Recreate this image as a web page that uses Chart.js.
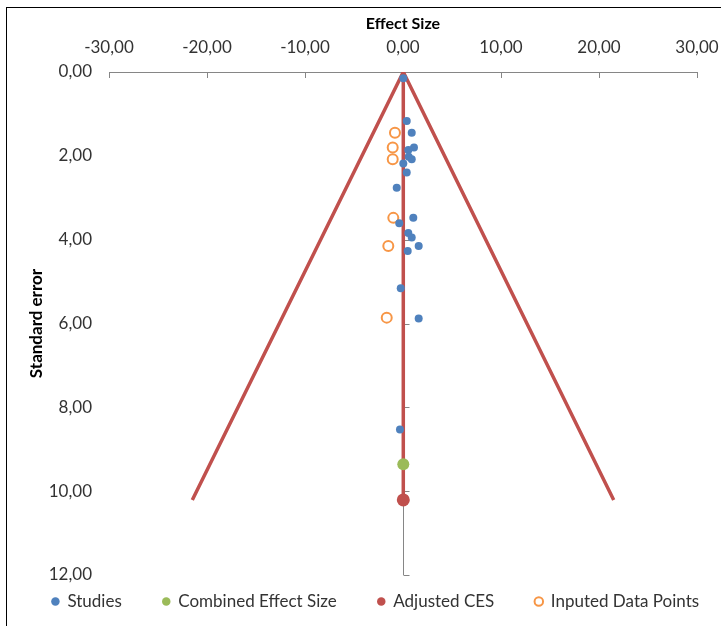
<!DOCTYPE html>
<html>
<head>
<meta charset="utf-8">
<script src="https://cdn.jsdelivr.net/npm/chart.js@4.4.1/dist/chart.umd.min.js"></script>
<style>
  html, body { margin: 0; padding: 0; background: #fff; }
  #wrap { position: relative; width: 721px; height: 626px; overflow: hidden; }
  #frame { position: absolute; left: 6px; top: 7px; width: 800px; height: 700px; border: 1px solid #000; box-sizing: border-box; pointer-events: none; }
  canvas { position: absolute; left: 0; top: 0; }
</style>
</head>
<body>
<div id="wrap">
  <canvas id="c" width="721" height="626"></canvas>
  <div id="frame"></div>
</div>
<script>
// ---- data ----
const studiesX  = [0.03, 0.38, 0.89, 1.12, 0.54, 0.58, 0.89, 0.03, 0.38, -0.64, 1.05, -0.38, 0.54, 0.89, 1.60, 0.48, -0.23, 1.60, -0.31];
const studiesSE = [0.15, 1.17, 1.45, 1.80, 1.86, 2.02, 2.08, 2.18, 2.40, 2.76, 3.48, 3.61, 3.84, 3.95, 4.15, 4.27, 5.16, 5.88, 8.53];
const inputedX  = [-0.82, -1.05, -1.05, -0.99, -1.50, -1.66];
const inputedSE = [1.45, 1.80, 2.08, 3.48, 4.15, 5.86];
const combinedX = [0.03];
const combinedSE = [9.36];
const adjustedX = [0.03];
const adjustedSE = [10.21];
const funnelX  = [-21.5, 0.03, 21.5];
const funnelSE = [10.21, 0, 10.21];
const centerLineX  = [0.03, 0.03];
const centerLineSE = [0, 10.21];
const xTickValues = [-30, -20, -10, 0, 10, 20, 30];
const yTickValues = [0, 2, 4, 6, 8, 10, 12];
const seriesLabels = ['Studies', 'Combined Effect Size', 'Adjusted CES', 'Inputed Data Points'];

const toPts = (xs, ys) => xs.map((v, i) => ({x: v, y: ys[i]}));
const fmt = v => Number(v).toFixed(2).replace('.', ',');

const FONT = 'Lato';
const BLUE = '#4F81BD', GREEN = '#9BBB59', RED = '#C0504D', ORANGE = '#F79646';

const axisDeco = {
  id: 'axisDeco',
  afterLayout(chart) {
    const lg = chart.legend;
    if (lg) { lg.top -= 23; lg.bottom -= 23; lg.left += 15; lg.right += 15; }
  },
  beforeDatasetsDraw(chart) {
    const {ctx, scales: {x, y}} = chart;
    ctx.save();
    ctx.strokeStyle = '#868686';
    ctx.lineWidth = 1;
    ctx.beginPath();
    const x0 = Math.round(x.getPixelForValue(0)) + 0.5;
    ctx.moveTo(x0, y.getPixelForValue(yTickValues[0]));
    ctx.lineTo(x0, y.getPixelForValue(yTickValues[yTickValues.length - 1]));
    yTickValues.forEach(v => {
      const py = Math.round(y.getPixelForValue(v)) + 0.5;
      ctx.moveTo(x0, py); ctx.lineTo(x0 + 6, py);
    });
    xTickValues.forEach(v => {
      const px = Math.round(x.getPixelForValue(v)) + 0.5;
      ctx.moveTo(px, y.top); ctx.lineTo(px, y.top + 6);
    });
    ctx.stroke();
    ctx.restore();
  }
};

new Chart(document.getElementById('c'), {
  type: 'scatter',
  data: {
    datasets: [
      { label: seriesLabels[0], data: toPts(studiesX, studiesSE), pointRadius: 4, backgroundColor: BLUE, borderColor: BLUE, borderWidth: 0, order: 1 },
      { label: seriesLabels[1], data: toPts(combinedX, combinedSE), pointRadius: 6, backgroundColor: GREEN, borderColor: GREEN, borderWidth: 0, order: 1 },
      { label: seriesLabels[2], data: toPts(adjustedX, adjustedSE), pointRadius: 6.5, backgroundColor: RED, borderColor: RED, borderWidth: 0, order: 1 },
      { label: seriesLabels[3], data: toPts(inputedX, inputedSE), pointRadius: 5, backgroundColor: '#fff', borderColor: ORANGE, borderWidth: 2, order: 1 },
      { label: 'funnel', data: toPts(funnelX, funnelSE), showLine: true, pointRadius: 0, borderColor: RED, borderWidth: 3.5, order: 5 },
      { label: 'center', data: toPts(centerLineX, centerLineSE), showLine: true, pointRadius: 0, borderColor: RED, borderWidth: 3.5, order: 5 }
    ]
  },
  options: {
    responsive: false,
    animation: false,
    devicePixelRatio: 1,
    layout: { padding: { left: -30, top: 0, right: -30, bottom: -17 } },
    plugins: {
      tooltip: { enabled: false },
      legend: {
        position: 'bottom',
        labels: {
          filter: item => seriesLabels.includes(item.text),
          usePointStyle: true,
          pointStyle: 'circle',
          boxWidth: 7,
          boxHeight: 6,
          padding: 41,
          color: '#333',
          font: { family: FONT, size: 17 }
        }
      }
    },
    scales: {
      x: {
        type: 'linear',
        position: 'top',
        min: -30, max: 30,
        afterBuildTicks: s => { s.ticks = xTickValues.map(v => ({value: v})); },
        afterFit: s => { s.height = 72; s.paddingRight = 24; },
        ticks: { callback: v => fmt(v), padding: 14, color: '#333', font: { family: FONT, size: 17 }, maxRotation: 0 },
        grid: { display: false, drawTicks: false },
        border: { display: true, color: '#868686', width: 1 },
        title: { display: true, text: 'Effect Size', color: '#000', font: { family: FONT, size: 16, weight: 'bold' }, padding: { top: 14, bottom: 0 } }
      },
      y: {
        type: 'linear',
        position: 'left',
        reverse: true,
        min: 0, max: 12,
        afterBuildTicks: s => { s.ticks = yTickValues.map(v => ({value: v})); },
        afterFit: s => { s.width = 139; },
        ticks: { callback: v => fmt(v), padding: 17, color: '#333', font: { family: FONT, size: 17 } },
        grid: { display: false, drawTicks: false },
        border: { display: false },
        title: { display: true, text: 'Standard error', color: '#000', font: { family: FONT, size: 17, weight: 'bold' }, padding: { top: 56, bottom: 0 } }
      }
    }
  },
  plugins: [axisDeco]
});
</script>
</body>
</html>
